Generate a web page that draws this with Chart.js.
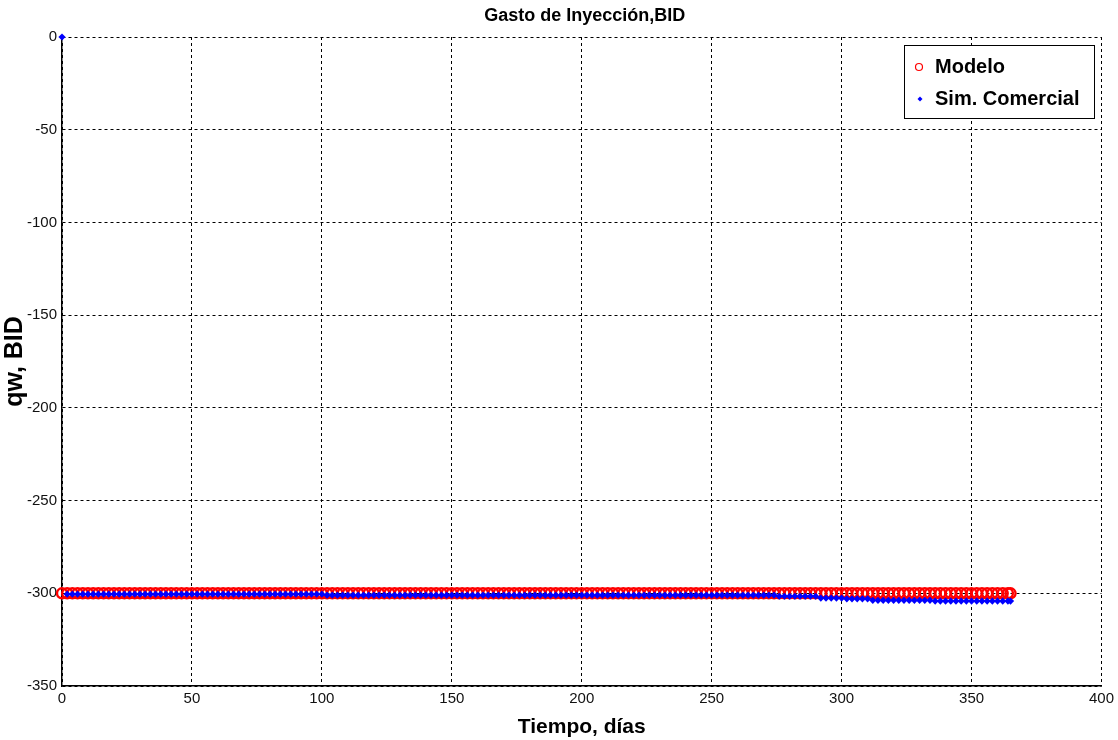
<!DOCTYPE html>
<html>
<head>
<meta charset="utf-8">
<script src="https://cdn.jsdelivr.net/npm/chart.js@4.4.1/dist/chart.umd.min.js"></script>
<style>
  html, body { margin: 0; padding: 0; background: #fff; }
  #wrap { width: 1118px; height: 740px; }
</style>
</head>
<body>
<div id="wrap"><canvas id="chart"></canvas></div>
<script>
// tiempo, dias
var days = [
    0, 2, 4, 6, 8, 10, 12, 14, 16, 18,
    20, 22, 24, 26, 28, 30, 32, 34, 36, 38,
    40, 42, 44, 46, 48, 50, 52, 54, 56, 58,
    60, 62, 64, 66, 68, 70, 72, 74, 76, 78,
    80, 82, 84, 86, 88, 90, 92, 94, 96, 98,
    100, 102, 104, 106, 108, 110, 112, 114, 116, 118,
    120, 122, 124, 126, 128, 130, 132, 134, 136, 138,
    140, 142, 144, 146, 148, 150, 152, 154, 156, 158,
    160, 162, 164, 166, 168, 170, 172, 174, 176, 178,
    180, 182, 184, 186, 188, 190, 192, 194, 196, 198,
    200, 202, 204, 206, 208, 210, 212, 214, 216, 218,
    220, 222, 224, 226, 228, 230, 232, 234, 236, 238,
    240, 242, 244, 246, 248, 250, 252, 254, 256, 258,
    260, 262, 264, 266, 268, 270, 272, 274, 276, 278,
    280, 282, 284, 286, 288, 290, 292, 294, 296, 298,
    300, 302, 304, 306, 308, 310, 312, 314, 316, 318,
    320, 322, 324, 326, 328, 330, 332, 334, 336, 338,
    340, 342, 344, 346, 348, 350, 352, 354, 356, 358,
    360, 362, 364, 365
];

// Modelo, qw BID
var modelo = [
    -300, -300, -300, -300, -300, -300, -300, -300, -300, -300,
    -300, -300, -300, -300, -300, -300, -300, -300, -300, -300,
    -300, -300, -300, -300, -300, -300, -300, -300, -300, -300,
    -300, -300, -300, -300, -300, -300, -300, -300, -300, -300,
    -300, -300, -300, -300, -300, -300, -300, -300, -300, -300,
    -300, -300, -300, -300, -300, -300, -300, -300, -300, -300,
    -300, -300, -300, -300, -300, -300, -300, -300, -300, -300,
    -300, -300, -300, -300, -300, -300, -300, -300, -300, -300,
    -300, -300, -300, -300, -300, -300, -300, -300, -300, -300,
    -300, -300, -300, -300, -300, -300, -300, -300, -300, -300,
    -300, -300, -300, -300, -300, -300, -300, -300, -300, -300,
    -300, -300, -300, -300, -300, -300, -300, -300, -300, -300,
    -300, -300, -300, -300, -300, -300, -300, -300, -300, -300,
    -300, -300, -300, -300, -300, -300, -300, -300, -300, -300,
    -300, -300, -300, -300, -300, -300, -300, -300, -300, -300,
    -300, -300, -300, -300, -300, -300, -300, -300, -300, -300,
    -300, -300, -300, -300, -300, -300, -300, -300, -300, -300,
    -300, -300, -300, -300, -300, -300, -300, -300, -300, -300,
    -300, -300, -300, -300
];

// Sim. Comercial, qw BID
var simComercial = [
    0, -300.5, -300.5, -300.5, -300.5, -300.5, -300.5, -300.5, -300.5, -300.5,
    -300.5, -300.5, -300.5, -300.5, -300.5, -300.5, -300.5, -300.5, -300.5, -300.5,
    -300.5, -300.5, -300.5, -300.5, -300.5, -300.5, -300.5, -300.5, -300.5, -300.5,
    -300.5, -300.5, -300.5, -300.5, -300.5, -300.5, -300.5, -300.5, -300.5, -300.5,
    -300.5, -300.5, -300.5, -300.5, -300.5, -300.5, -300.5, -300.5, -300.5, -300.5,
    -300.5, -301, -301, -301, -301, -301, -301, -301, -301, -301,
    -301, -301, -301, -301, -301, -301, -301, -301, -301, -301,
    -301, -301, -301, -301, -301, -301, -301, -301, -301, -301,
    -301, -301, -301, -301, -301, -301, -301, -301, -301, -301,
    -301, -301, -301, -301, -301, -301, -301, -301, -301, -301,
    -301, -301, -301, -301, -301, -301, -301, -301, -301, -301,
    -301, -301, -301, -301, -301, -301, -301, -301, -301, -301,
    -301, -301, -301, -301, -301, -301, -301, -301, -301, -301,
    -301, -301, -301, -301, -301, -301, -301, -301, -301.6, -301.6,
    -301.6, -301.6, -301.6, -301.6, -301.6, -301.6, -302.6, -302.6, -302.6, -302.6,
    -302.6, -303, -303, -303, -303, -303, -303.8, -303.8, -303.8, -303.8,
    -303.8, -303.8, -303.8, -303.8, -303.8, -303.8, -303.8, -303.8, -304.2, -304.2,
    -304.2, -304.2, -304.2, -304.2, -304.2, -304.2, -304.2, -304.2, -304.2, -304.2,
    -304.2, -304.2, -304.2, -304.2
];

var xTicks = [0, 50, 100, 150, 200, 250, 300, 350, 400];
var yTicks = [0, -50, -100, -150, -200, -250, -300, -350];

var sans = "'Liberation Sans', Arial, sans-serif";

function toPoints(ys) {
    return days.map(function (d, i) { return { x: d, y: ys[i] }; });
}

// titulo y leyenda dibujados a mano, como en la figura original
var extras = {
    id: "extras",
    afterDraw: function (chart) {
        var c = chart.ctx;
        var area = chart.chartArea;
        c.save();
        c.fillStyle = "#000";
        c.font = "bold 18px " + sans;
        c.textAlign = "center";
        c.textBaseline = "alphabetic";
        c.fillText("Gasto de Inyección,BID", (area.left + area.right) / 2 + 3, 21);

        // leyenda
        c.fillStyle = "#fff";
        c.fillRect(904.5, 45.5, 190, 73);
        c.strokeStyle = "#000";
        c.lineWidth = 1;
        c.strokeRect(904.5, 45.5, 190, 73);

        c.strokeStyle = "#ff0000";
        c.lineWidth = 1.2;
        c.beginPath();
        c.arc(919, 67, 3.5, 0, Math.PI * 2);
        c.stroke();

        c.fillStyle = "#0000ff";
        c.beginPath();
        c.moveTo(920, 96.5);
        c.lineTo(922.5, 99);
        c.lineTo(920, 101.5);
        c.lineTo(917.5, 99);
        c.closePath();
        c.fill();

        c.fillStyle = "#000";
        c.font = "bold 20px " + sans;
        c.textAlign = "left";
        c.fillText(chart.data.datasets[0].label, 935, 73);
        c.fillText(chart.data.datasets[1].label, 935, 105);
        c.restore();
    }
};

var ctx = document.getElementById("chart").getContext("2d");

new Chart(ctx, {
    type: "scatter",
    data: {
        datasets: [{
            label: "Modelo",
            data: toPoints(modelo),
            showLine: false,
            pointStyle: "circle",
            pointRadius: 5,
            pointBorderWidth: 2.4,
            pointBorderColor: "#ff0000",
            pointBackgroundColor: "rgba(255,255,255,0)",
            order: 1,
            clip: false
        }, {
            label: "Sim. Comercial",
            data: toPoints(simComercial),
            showLine: false,
            pointStyle: "rectRot",
            pointRadius: 3.6,
            pointBorderWidth: 0,
            pointBackgroundColor: "#0000ff",
            pointBorderColor: "#0000ff",
            order: 0,
            clip: false
        }]
    },
    plugins: [extras],
    options: {
        responsive: true,
        maintainAspectRatio: false,
        animation: false,
        events: [],
        layout: {
            padding: { top: 37, right: 15, bottom: 0, left: 0 }
        },
        plugins: {
            legend: { display: false },
            tooltip: { enabled: false }
        },
        scales: {
            x: {
                type: "linear",
                min: 0,
                max: 400,
                afterBuildTicks: function (s) {
                    s.ticks = xTicks.map(function (v) { return { value: v }; });
                },
                afterFit: function (s) { s.height = 54; },
                grid: {
                    color: "#000",
                    lineWidth: 1,
                    drawTicks: false
                },
                border: {
                    display: true,
                    color: "#000",
                    width: 1.5,
                    dash: [3, 3]
                },
                ticks: {
                    padding: 4,
                    color: "#111",
                    maxRotation: 0,
                    font: { family: sans, size: 15 }
                },
                title: {
                    display: true,
                    text: "Tiempo, días",
                    color: "#000",
                    padding: { top: 4, bottom: 0 },
                    font: { family: sans, size: 21, weight: "bold" }
                }
            },
            y: {
                type: "linear",
                min: -350,
                max: 0,
                afterBuildTicks: function (s) {
                    s.ticks = yTicks.slice().reverse().map(function (v) { return { value: v }; });
                },
                afterFit: function (s) { s.width = 62; },
                grid: {
                    color: "#000",
                    lineWidth: 1,
                    drawTicks: false
                },
                border: {
                    display: true,
                    color: "#000",
                    width: 1.5,
                    dash: [3, 3]
                },
                ticks: {
                    padding: 5,
                    color: "#111",
                    font: { family: sans, size: 15 }
                },
                title: {
                    display: true,
                    text: "qw, BID",
                    color: "#000",
                    padding: { top: 0, bottom: 0 },
                    font: { family: sans, size: 25, weight: "bold" }
                }
            }
        }
    }
});
</script>
</body>
</html>
